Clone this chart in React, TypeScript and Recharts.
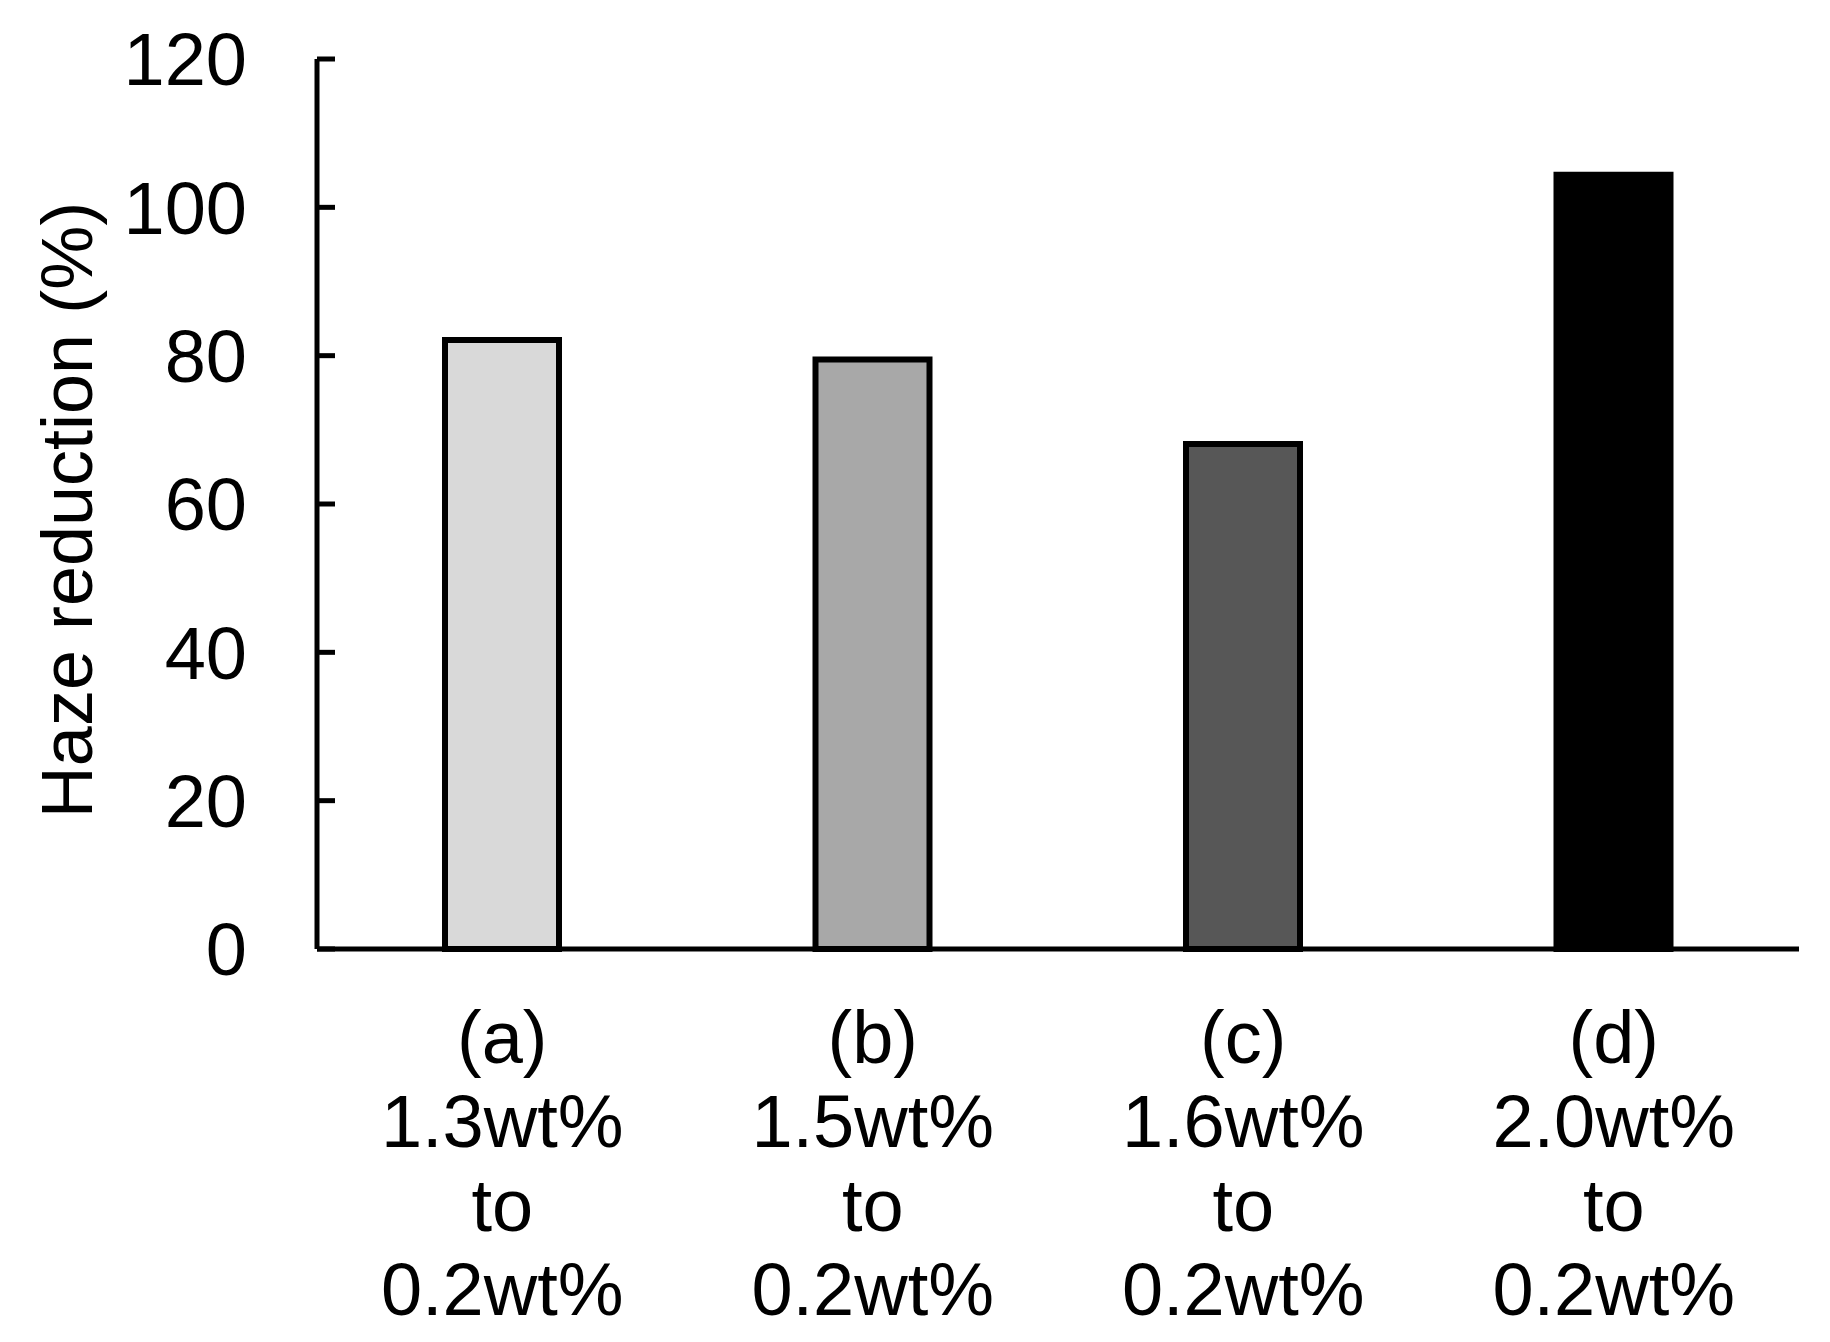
import React from 'react';
import { BarChart, Bar, XAxis, YAxis, Cell } from 'recharts';

const categories = ['(a)', '(b)', '(c)', '(d)'];
const fromLabels = ['1.3wt%', '1.5wt%', '1.6wt%', '2.0wt%'];
const toLabels = ['0.2wt%', '0.2wt%', '0.2wt%', '0.2wt%'];
const hazeReduction = [82.1, 79.5, 68.1, 104.4];
const barColors = ['#d9d9d9', '#a8a8a8', '#575757', '#000000'];
const yTicks = [0, 20, 40, 60, 80, 100, 120];

const FONT = '"Liberation Sans", Arial, Helvetica, sans-serif';
const FS = 74;

const data = categories.map((c, i) => ({
  cat: c,
  from: fromLabels[i],
  to: toLabels[i],
  value: hazeReduction[i],
}));

const YTick = (props: any) => {
  const { x, y, payload } = props;
  return (
    <g>
      <line x1={x} y1={y} x2={x + 18} y2={y} stroke="#000" strokeWidth={5} />
      <text
        x={x - 70}
        y={y}
        dy="0.355em"
        textAnchor="end"
        fontFamily={FONT}
        fontSize={FS}
        fill="#000"
      >
        {payload.value}
      </text>
    </g>
  );
};

const XTick = (props: any) => {
  const { x, y, index } = props;
  const d = data[index];
  if (!d) return null;
  const lines = [d.cat, d.from, 'to', d.to];
  return (
    <g>
      {lines.map((t, i) => (
        <text
          key={i}
          x={x}
          y={y + 114 + i * 84}
          textAnchor="middle"
          fontFamily={FONT}
          fontSize={FS}
          fill="#000"
        >
          {t}
        </text>
      ))}
    </g>
  );
};

const YLabel = () => (
  <text
    x={92}
    y={510}
    transform="rotate(-90, 92, 510)"
    textAnchor="middle"
    fontFamily={FONT}
    fontSize={72}
    fill="#000"
  >
    Haze reduction (%)
  </text>
);

export default function App() {
  return (
    <div style={{ position: 'absolute', left: 0, top: 0, background: '#fff' }}>
      <BarChart
        width={1830}
        height={1342}
        data={data}
        margin={{ top: 59, right: 31, bottom: 0, left: 0 }}
      >
        <XAxis
          dataKey="cat"
          height={393}
          axisLine={{ stroke: '#000', strokeWidth: 5 }}
          tickLine={false}
          tickSize={0}
          tickMargin={0}
          interval={0}
          tick={<XTick />}
        />
        <YAxis
          width={317}
          type="number"
          domain={[0, 120]}
          ticks={yTicks}
          interval={0}
          axisLine={{ stroke: '#000', strokeWidth: 5 }}
          tickLine={false}
          tickSize={0}
          tickMargin={0}
          tick={<YTick />}
          label={<YLabel />}
        />
        <Bar dataKey="value" barSize={114} stroke="#000" strokeWidth={6} isAnimationActive={false}>
          {data.map((d, i) => (
            <Cell key={d.cat} fill={barColors[i]} />
          ))}
        </Bar>
      </BarChart>
    </div>
  );
}
